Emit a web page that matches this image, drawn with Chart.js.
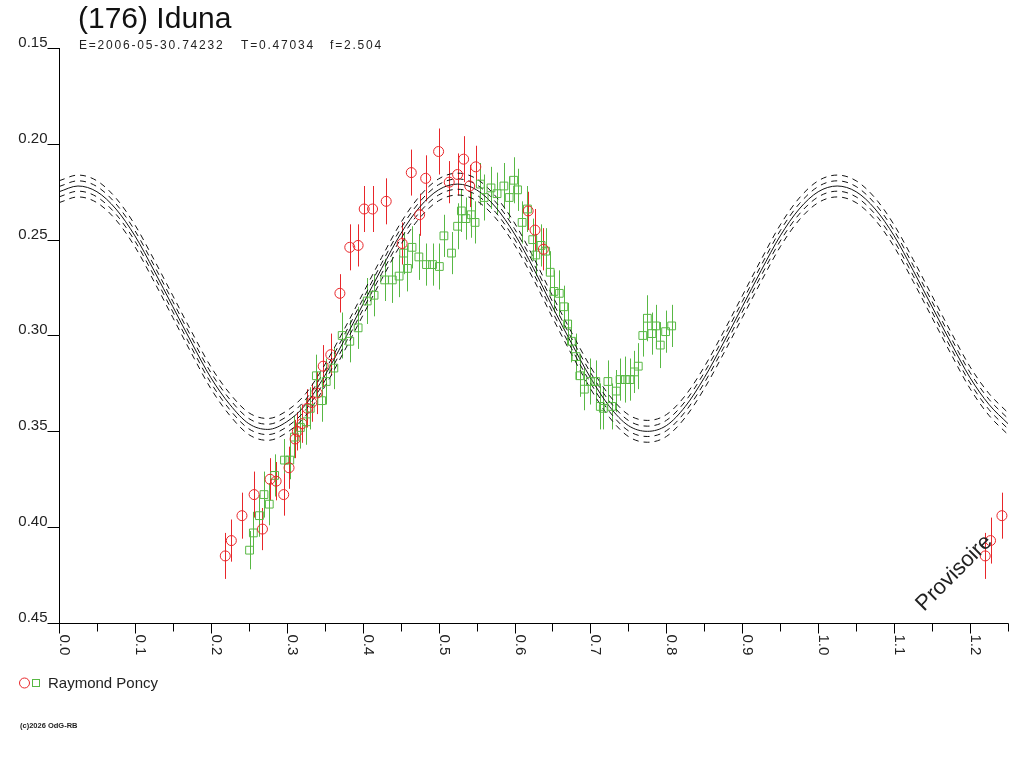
<!DOCTYPE html>
<html>
<head>
<meta charset="utf-8">
<title>(176) Iduna</title>
<script src="https://cdn.jsdelivr.net/npm/chart.js@4/dist/chart.umd.min.js"></script>
<style>
html, body { margin: 0; padding: 0; background: #fff; }
#wrap { width: 1024px; height: 768px; }
</style>
</head>
<body>
<div id="wrap"><canvas id="lc" width="1024" height="768"></canvas></div>
<script>
// header texts
const titleText = '(176) Iduna';
const infoTexts = ['E=2006-05-30.74232', 'T=0.47034', 'f=2.504'];
const observer = 'Raymond Poncy';
const footerText = '(c)2026 OdG-RB';
const stampText = 'Provisoire';

// axis ticks
const phaseTicks = [0, 0.1, 0.2, 0.3, 0.4, 0.5, 0.6, 0.7, 0.8, 0.9, 1.0, 1.1, 1.2];
const phaseLabels = ['0.0', '0.1', '0.2', '0.3', '0.4', '0.5', '0.6', '0.7', '0.8', '0.9', '1.0', '1.1', '1.2'];
const magTicks = [0.15, 0.20, 0.25, 0.30, 0.35, 0.40, 0.45];
const magLabels = ['0.15', '0.20', '0.25', '0.30', '0.35', '0.40', '0.45'];

// red circles (phase, relative mag, error)
const redPhase = [0.219, 0.227, 0.241, 0.257, 0.268, 0.278, 0.286, 0.296, 0.303, 0.311,
                  0.314, 0.320, 0.327, 0.333, 0.340, 0.348, 0.358, 0.370, 0.383, 0.394,
                  0.402, 0.413, 0.431, 0.452, 0.464, 0.475, 0.483, 0.500, 0.514, 0.525,
                  0.533, 0.541, 0.549, 0.618, 0.627, 0.638, 1.220, 1.227, 1.242];
const redMag = [0.415, 0.407, 0.394, 0.383, 0.401, 0.375, 0.376, 0.383, 0.369, 0.354,
                0.350, 0.346, 0.338, 0.335, 0.330, 0.316, 0.310, 0.278, 0.254, 0.253,
                0.234, 0.234, 0.230, 0.252, 0.215, 0.237, 0.218, 0.204, 0.220, 0.216,
                0.208, 0.222, 0.212, 0.235, 0.245, 0.255, 0.415, 0.407, 0.394];
const redErr = [0.012, 0.011, 0.012, 0.012, 0.011, 0.011, 0.010, 0.011, 0.011, 0.010,
                0.010, 0.010, 0.010, 0.010, 0.011, 0.011, 0.011, 0.010, 0.012, 0.011,
                0.012, 0.012, 0.012, 0.011, 0.012, 0.011, 0.012, 0.012, 0.011, 0.011,
                0.012, 0.011, 0.011, 0.010, 0.011, 0.011, 0.012, 0.012, 0.012];

// green squares
const greenPhase = [0.251, 0.256, 0.264, 0.270, 0.277, 0.284, 0.297, 0.304, 0.310, 0.318,
                    0.326, 0.331, 0.339, 0.346, 0.352, 0.362, 0.373, 0.383, 0.394, 0.406,
                    0.415, 0.429, 0.439, 0.448, 0.454, 0.459, 0.465, 0.474, 0.484, 0.492,
                    0.501, 0.507, 0.517, 0.525, 0.530, 0.536, 0.543, 0.548, 0.555, 0.560,
                    0.569, 0.577, 0.586, 0.593, 0.599, 0.604, 0.610, 0.617, 0.624, 0.628,
                    0.635, 0.641, 0.647, 0.652, 0.659, 0.665, 0.670, 0.675, 0.681, 0.686,
                    0.692, 0.700, 0.707, 0.713, 0.717, 0.723, 0.728, 0.734, 0.739, 0.746,
                    0.752, 0.758, 0.763, 0.769, 0.775, 0.781, 0.786, 0.792, 0.799, 0.807];
const greenMag = [0.412, 0.403, 0.394, 0.383, 0.388, 0.373, 0.365, 0.365, 0.353, 0.348,
                  0.345, 0.338, 0.321, 0.334, 0.324, 0.317, 0.300, 0.303, 0.296, 0.282,
                  0.279, 0.271, 0.271, 0.269, 0.257, 0.265, 0.254, 0.259, 0.263, 0.263,
                  0.264, 0.248, 0.257, 0.243, 0.235, 0.239, 0.237, 0.241, 0.221, 0.228,
                  0.223, 0.226, 0.222, 0.228, 0.219, 0.224, 0.241, 0.234, 0.250, 0.258,
                  0.253, 0.256, 0.267, 0.277, 0.278, 0.285, 0.294, 0.303, 0.311, 0.321,
                  0.328, 0.324, 0.324, 0.337, 0.338, 0.324, 0.337, 0.329, 0.323, 0.323,
                  0.323, 0.319, 0.316, 0.300, 0.291, 0.299, 0.295, 0.305, 0.298, 0.295];
const greenErr = [0.010, 0.011, 0.011, 0.012, 0.011, 0.011, 0.011, 0.010, 0.011, 0.011,
                  0.012, 0.011, 0.011, 0.011, 0.012, 0.011, 0.012, 0.011, 0.011, 0.012,
                  0.011, 0.011, 0.012, 0.011, 0.011, 0.012, 0.011, 0.012, 0.011, 0.011,
                  0.012, 0.011, 0.011, 0.012, 0.011, 0.011, 0.012, 0.011, 0.011, 0.012,
                  0.011, 0.011, 0.012, 0.011, 0.012, 0.011, 0.011, 0.012, 0.011, 0.011,
                  0.011, 0.012, 0.011, 0.011, 0.012, 0.011, 0.011, 0.011, 0.012, 0.011,
                  0.011, 0.012, 0.011, 0.012, 0.011, 0.011, 0.012, 0.011, 0.011, 0.012,
                  0.011, 0.011, 0.012, 0.011, 0.012, 0.011, 0.011, 0.012, 0.011, 0.011];

// fitted curve, read every 0.025 in phase
const curvePhase = [0, 0.025, 0.05, 0.075, 0.1, 0.125, 0.15, 0.175, 0.2, 0.225,
                    0.25, 0.275, 0.3, 0.325, 0.35, 0.375, 0.4, 0.425, 0.45, 0.475,
                    0.5, 0.525, 0.55, 0.575, 0.6, 0.625, 0.65, 0.675, 0.7, 0.725,
                    0.75, 0.775, 0.8, 0.825, 0.85, 0.875, 0.9, 0.925, 0.95, 0.975,
                    1.0, 1.025, 1.05, 1.075, 1.1, 1.125, 1.15, 1.175, 1.2, 1.225, 1.25];
const curveMag = [0.225, 0.222, 0.225, 0.234, 0.248, 0.266, 0.285, 0.304, 0.322, 0.336,
                  0.346, 0.349, 0.345, 0.336, 0.321, 0.303, 0.284, 0.265, 0.247, 0.233,
                  0.224, 0.221, 0.224, 0.233, 0.247, 0.265, 0.285, 0.304, 0.322, 0.337,
                  0.347, 0.350, 0.347, 0.337, 0.322, 0.304, 0.285, 0.266, 0.248, 0.234,
                  0.225, 0.222, 0.225, 0.234, 0.248, 0.266, 0.285, 0.304, 0.322, 0.336, 0.346];
const bandInner = 0.0027;
const bandOuter = 0.0057;

const RED = '#e8262a';
const GREEN = '#58b844';
const FONT = '"Liberation Sans", Arial, sans-serif';

function toPoints(xs, ys) {
    return xs.map(function (v, i) { return { x: v, y: ys[i] }; });
}

var datasets = [];
[-bandOuter, -bandInner, 0, bandInner, bandOuter].forEach(function (off) {
    datasets.push({
        data: curvePhase.map(function (p, i) { return { x: p, y: curveMag[i] + off }; }),
        showLine: true,
        borderColor: '#111',
        borderWidth: 1,
        borderDash: off === 0 ? [] : [6, 5],
        pointRadius: 0,
        cubicInterpolationMode: 'monotone',
        order: 3
    });
});
datasets.push({
    data: toPoints(greenPhase, greenMag),
    errors: greenErr,
    pointStyle: 'rect',
    pointRadius: 5.5,
    borderWidth: 1,
    borderColor: GREEN,
    backgroundColor: 'rgba(0,0,0,0)',
    order: 2
});
datasets.push({
    data: toPoints(redPhase, redMag),
    errors: redErr,
    pointStyle: 'circle',
    pointRadius: 5,
    borderWidth: 1,
    borderColor: RED,
    backgroundColor: 'rgba(0,0,0,0)',
    order: 1
});

/* error bars under the marks, axes and texts on top */
const decor = {
    id: 'decor',
    beforeDatasetsDraw: function (chart) {
        const ctx = chart.ctx, xs = chart.scales.x, ys = chart.scales.y;
        ctx.save();
        ctx.lineWidth = 1;
        chart.data.datasets.forEach(function (ds) {
            if (!ds.errors) return;
            ctx.strokeStyle = ds.borderColor;
            ds.data.forEach(function (p, i) {
                const px = Math.round(xs.getPixelForValue(p.x)) + 0.5;
                ctx.beginPath();
                ctx.moveTo(px, ys.getPixelForValue(p.y - ds.errors[i]));
                ctx.lineTo(px, ys.getPixelForValue(p.y + ds.errors[i]));
                ctx.stroke();
            });
        });
        ctx.restore();
    },
    afterDraw: function (chart) {
        const ctx = chart.ctx, xs = chart.scales.x, ys = chart.scales.y;
        const left = Math.round(xs.getPixelForValue(0)) + 0.5;
        const right = Math.round(xs.getPixelForValue(1.25)) + 0.5;
        const top = Math.round(ys.getPixelForValue(0.15));
        const bottom = Math.round(ys.getPixelForValue(0.45)) + 0.5;
        ctx.save();
        ctx.strokeStyle = '#000';
        ctx.lineWidth = 1;

        // axis lines
        ctx.beginPath();
        ctx.moveTo(left, top);
        ctx.lineTo(left, bottom);
        ctx.moveTo(left - 10, bottom);
        ctx.lineTo(right, bottom);
        ctx.stroke();

        // y ticks + labels
        ctx.fillStyle = '#222';
        ctx.font = '15px ' + FONT;
        ctx.textAlign = 'right';
        ctx.textBaseline = 'alphabetic';
        magTicks.forEach(function (v, i) {
            const py = Math.round(ys.getPixelForValue(v)) + 0.5;
            ctx.beginPath();
            ctx.moveTo(left - 12, py);
            ctx.lineTo(left, py);
            ctx.stroke();
            ctx.fillText(magLabels[i], left - 12, py - 2);
        });

        // x ticks every 0.05, longer on the tenths
        for (let i = 0; i <= 25; i++) {
            const px = Math.round(xs.getPixelForValue(i * 0.05)) + 0.5;
            ctx.beginPath();
            ctx.moveTo(px, bottom);
            ctx.lineTo(px, bottom + (i % 2 === 0 ? 10 : 8));
            ctx.stroke();
        }
        // x labels, turned a quarter clockwise
        ctx.textAlign = 'left';
        phaseTicks.forEach(function (v, i) {
            const px = Math.round(xs.getPixelForValue(v));
            ctx.save();
            ctx.translate(px + 1, bottom + 11);
            ctx.rotate(Math.PI / 2);
            ctx.fillText(phaseLabels[i], 0, 0);
            ctx.restore();
        });

        // title block
        ctx.fillStyle = '#111';
        ctx.font = '30px ' + FONT;
        ctx.fillText(titleText, 78, 28);
        ctx.fillStyle = '#222';
        ctx.font = '12px ' + FONT;
        ctx.letterSpacing = '1.8px';
        ctx.fillText(infoTexts[0], 79, 49);
        ctx.fillText(infoTexts[1], 241, 49);
        ctx.fillText(infoTexts[2], 330, 49);
        ctx.letterSpacing = '0px';

        // legend
        ctx.strokeStyle = RED;
        ctx.beginPath();
        ctx.arc(24.5, 683, 5, 0, Math.PI * 2);
        ctx.stroke();
        ctx.strokeStyle = GREEN;
        ctx.strokeRect(32.5, 679.5, 7, 7);
        ctx.fillStyle = '#222';
        ctx.font = '15px ' + FONT;
        ctx.fillText(observer, 48, 688);

        // footer
        ctx.font = 'bold 7.5px ' + FONT;
        ctx.fillText(footerText, 20, 728);

        // "Provisoire" stamp
        ctx.fillStyle = '#222';
        ctx.font = '22px ' + FONT;
        ctx.translate(924, 612);
        ctx.rotate(-Math.PI / 4);
        ctx.fillText(stampText, 0, 0);
        ctx.restore();
    }
};

new Chart(document.getElementById('lc'), {
    type: 'scatter',
    data: { datasets: datasets },
    options: {
        responsive: false,
        animation: false,
        events: [],
        layout: { padding: { left: 59, top: 48, right: 16, bottom: 145 } },
        scales: {
            x: { type: 'linear', min: 0, max: 1.25, display: false },
            y: { type: 'linear', min: 0.15, max: 0.45, reverse: true, display: false }
        },
        plugins: {
            legend: { display: false },
            tooltip: { enabled: false }
        }
    },
    plugins: [decor]
});
</script>
</body>
</html>
